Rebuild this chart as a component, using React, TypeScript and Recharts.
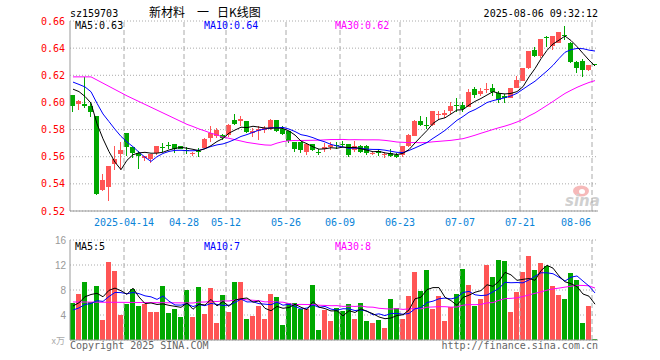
import React from 'react';
import { ComposedChart, Bar, Line, XAxis, YAxis, CartesianGrid, ReferenceLine } from 'recharts';

const dates = ["03-31","04-01","04-02","04-03","04-07","04-08","04-09","04-10","04-11","04-14","04-15","04-16","04-17","04-18","04-21","04-22","04-23","04-24","04-25","04-28","04-29","04-30","05-06","05-07","05-08","05-09","05-12","05-13","05-14","05-15","05-16","05-19","05-20","05-21","05-22","05-23","05-26","05-27","05-28","05-29","05-30","06-03","06-04","06-05","06-06","06-09","06-10","06-11","06-12","06-13","06-16","06-17","06-18","06-19","06-20","06-23","06-24","06-25","06-26","06-27","06-30","07-01","07-02","07-03","07-04","07-07","07-08","07-09","07-10","07-11","07-14","07-15","07-16","07-17","07-18","07-21","07-22","07-23","07-24","07-25","07-28","07-29","07-30","07-31","08-01","08-04","08-05","08-06"];

const openP = [0.6056,0.5990,0.5985,0.5977,0.5901,0.5352,0.5380,0.5546,0.5622,0.5774,0.5670,0.5627,0.5590,0.5583,0.5625,0.5670,0.5690,0.5693,0.5680,0.5648,0.5620,0.5642,0.5665,0.5735,0.5755,0.5760,0.5758,0.5867,0.5860,0.5860,0.5774,0.5793,0.5795,0.5805,0.5872,0.5805,0.5786,0.5712,0.5705,0.5635,0.5695,0.5632,0.5660,0.5672,0.5683,0.5695,0.5695,0.5646,0.5680,0.5678,0.5621,0.5645,0.5615,0.5625,0.5615,0.5610,0.5680,0.5756,0.5864,0.5832,0.5834,0.5905,0.5910,0.5940,0.5978,0.5980,0.5970,0.6100,0.6060,0.6093,0.6110,0.6069,0.6050,0.6036,0.6110,0.6161,0.6253,0.6387,0.6343,0.6482,0.6417,0.6437,0.6497,0.6441,0.6300,0.6308,0.6240,0.6280];
const highP = [0.6056,0.6019,0.6186,0.5999,0.5901,0.5475,0.5535,0.5676,0.5705,0.5774,0.5670,0.5640,0.5605,0.5618,0.5676,0.5700,0.5705,0.5693,0.5680,0.5668,0.5635,0.5665,0.5735,0.5828,0.5813,0.5765,0.5840,0.5916,0.5901,0.5860,0.5810,0.5828,0.5828,0.5875,0.5872,0.5830,0.5790,0.5712,0.5705,0.5695,0.5695,0.5656,0.5700,0.5705,0.5705,0.5715,0.5695,0.5716,0.5688,0.5690,0.5636,0.5660,0.5635,0.5655,0.5625,0.5676,0.5767,0.5870,0.5901,0.5890,0.5940,0.5938,0.5945,0.6005,0.6036,0.6002,0.6098,0.6117,0.6105,0.6143,0.6134,0.6085,0.6060,0.6105,0.6198,0.6257,0.6380,0.6411,0.6468,0.6487,0.6492,0.6522,0.6564,0.6445,0.6305,0.6319,0.6274,0.6280];
const lowP = [0.5933,0.5945,0.5958,0.5896,0.5320,0.5344,0.5271,0.5504,0.5504,0.5605,0.5590,0.5511,0.5570,0.5555,0.5615,0.5634,0.5659,0.5625,0.5655,0.5618,0.5605,0.5597,0.5662,0.5710,0.5735,0.5725,0.5745,0.5836,0.5830,0.5775,0.5745,0.5725,0.5774,0.5800,0.5785,0.5760,0.5700,0.5635,0.5631,0.5615,0.5640,0.5614,0.5637,0.5650,0.5655,0.5668,0.5597,0.5637,0.5625,0.5615,0.5614,0.5605,0.5590,0.5595,0.5590,0.5595,0.5675,0.5750,0.5823,0.5806,0.5830,0.5870,0.5885,0.5914,0.5933,0.5929,0.5965,0.6032,0.6045,0.6066,0.6044,0.5998,0.5998,0.6030,0.6105,0.6155,0.6250,0.6335,0.6330,0.6410,0.6388,0.6435,0.6461,0.6290,0.6216,0.6186,0.6231,0.6275];
const closeP = [0.5977,0.6007,0.5975,0.5926,0.5327,0.5425,0.5535,0.5585,0.5651,0.5674,0.5630,0.5602,0.5605,0.5618,0.5676,0.5665,0.5685,0.5660,0.5660,0.5642,0.5625,0.5638,0.5730,0.5772,0.5795,0.5737,0.5835,0.5843,0.5877,0.5780,0.5787,0.5803,0.5810,0.5870,0.5790,0.5765,0.5713,0.5660,0.5646,0.5695,0.5650,0.5627,0.5673,0.5686,0.5678,0.5690,0.5610,0.5678,0.5635,0.5630,0.5630,0.5625,0.5620,0.5605,0.5600,0.5676,0.5762,0.5864,0.5836,0.5827,0.5938,0.5912,0.5920,0.5977,0.5973,0.5952,0.6080,0.6056,0.6085,0.6100,0.6076,0.6020,0.6032,0.6105,0.6166,0.6257,0.6380,0.6340,0.6465,0.6478,0.6490,0.6522,0.6490,0.6301,0.6253,0.6240,0.6274,0.6275];
const volume = [5.97,7.36,9.28,6.1,8.64,3.2,12.53,11.04,4.0,5.76,8.16,5.44,5.76,4.53,4.53,8.64,4.27,4.96,3.73,8.0,3.63,8.43,4.16,8.27,2.77,7.2,4.48,9.28,9.28,3.36,3.89,5.44,3.36,7.36,6.83,2.4,6.0,6.0,4.96,4.96,8.8,1.6,4.8,3.09,5.12,4.69,5.76,3.36,6.0,3.09,2.77,3.2,1.97,6.56,5.12,3.36,7.04,10.88,7.84,11.2,4.96,7.04,3.09,5.23,7.36,11.36,8.8,5.44,6.56,12.05,10.08,12.8,12.64,4.53,7.68,10.88,13.44,11.2,12.32,11.9,8.64,7.2,6.56,10.72,9.6,2.72,5.44,0.16];

// sessions before the first visible day (estimated from where the MA lines start)
const priorClose = [0.6007,0.5975,0.5926,0.6027,0.6125,0.6235,0.6285,0.6351,0.6374,0.6260,0.6232,0.6235,0.6248,0.6306,0.6295,0.6315,0.6290,0.6290,0.6272,0.6105,0.6180,0.6160,0.6280,0.6180,0.6210,0.6097,0.6155,0.6170,0.6090];
const priorVolume = [7.5,9.5,6.4,8.9,3.5,12.6,11.2,4.3,6.0,8.4,5.7,6.0,4.8,4.8,8.9,4.5,5.2,4.0,8.3,4.0,4.0,3.8,4.5,4.2,4.3,4.7,4.5,4.3,7.7];

const tickDates = ["04-14","04-28","05-12","05-26","06-09","06-23","07-07","07-21","08-06"];
const tickLabels = ["2025-04-14","04-28","05-12","05-26","06-09","06-23","07-07","07-21","08-06"];
const priceTicks = [0.52,0.54,0.56,0.58,0.60,0.62,0.64,0.66];
const volTicks = [0,4,8,12,16];
const priceLegend = ["MA5:0.63","MA10:0.64","MA30:0.62"];
const volLegend = ["MA5:5","MA10:7","MA30:8"];

const RED = '#ff5555';
const GREEN = '#00a800';
const MONO = '"DejaVu Sans Mono", monospace';
const GRID = '#aaaaaa';
const BORDER = '#999999';

function movingAvg(prior: number[], values: number[], n: number) {
  const all = [...prior, ...values];
  const off = prior.length;
  return values.map((_, i) => {
    let s = 0;
    for (let k = 0; k < n; k++) s += all[off + i - k];
    return s / n;
  });
}

const ma5 = movingAvg(priorClose, closeP, 5);
const ma10 = movingAvg(priorClose, closeP, 10);
const ma30 = movingAvg(priorClose, closeP, 30);
const vma5 = movingAvg(priorVolume, volume, 5);
const vma10 = movingAvg(priorVolume, volume, 10);
const vma30 = movingAvg(priorVolume, volume, 30);

const rows = dates.map((d, i) => ({
  d,
  open: openP[i],
  high: highP[i],
  low: lowP[i],
  close: closeP[i],
  vol: volume[i],
  ma5: ma5[i],
  ma10: ma10[i],
  ma30: ma30[i],
  vma5: vma5[i],
  vma10: vma10[i],
  vma30: vma30[i],
}));

const Candle = (props: any) => {
  const { x, y, height, payload } = props;
  if (x == null || y == null || !payload) return null;
  const top = Math.min(y, y + height);
  const bot = Math.max(y, y + height);
  const { open, close, high, low } = payload;
  const span = high - low;
  const py = (v: number) => (span > 0 ? top + ((high - v) / span) * (bot - top) : top);
  const color = close >= open ? RED : GREEN;
  const sx = Math.round(x);
  const yo = py(open);
  const yc = py(close);
  const bt = Math.round(Math.min(yo, yc));
  let bh = Math.round(Math.max(yo, yc)) - bt;
  if (bh < 1) bh = 1;
  const wt = Math.round(top);
  const wh = Math.max(1, Math.round(bot) - wt);
  return (
    <g>
      <rect x={sx + 2} y={wt} width={1} height={wh} fill={color} />
      <rect x={sx} y={bt} width={5} height={bh} fill={color} />
    </g>
  );
};

const VolBar = (props: any) => {
  const { x, y, height, payload } = props;
  if (x == null || y == null || !payload) return null;
  const color = payload.close >= payload.open ? RED : GREEN;
  const t = Math.round(Math.min(y, y + height));
  const b = Math.round(Math.max(y, y + height));
  return <rect x={Math.round(x)} y={t} width={5} height={Math.max(1, b - t)} fill={color} />;
};

const XTick = (props: any) => {
  const { x, y, payload } = props;
  const i = tickDates.indexOf(payload.value);
  if (i < 0) return null;
  const last = i === tickDates.length - 1;
  const lx = x - 3;
  return (
    <text x={last ? lx - 1 : lx} y={y + 14.5} textAnchor={last ? 'end' : 'middle'} fill="#0b84d8" fontSize={10} fontFamily={MONO}>
      {tickLabels[i]}
    </text>
  );
};

const PriceTick = (props: any) => {
  const { x, y, payload } = props;
  return (
    <text x={x - 5} y={y + 3.5} textAnchor="end" fill="#ff0000" fontSize={10} fontFamily={MONO}>
      {Number(payload.value).toFixed(2)}
    </text>
  );
};

const VolTick = (props: any) => {
  const { x, y, payload } = props;
  if (payload.value === 0) return null;
  return (
    <text x={x - 4} y={y + 3.5} textAnchor="end" fill="#999" fontSize={10} fontFamily='"Liberation Sans", sans-serif'>
      {payload.value}
    </text>
  );
};

export default function App() {
  return (
    <div style={{ position: 'absolute', left: 0, top: 0, width: 660, height: 360, background: '#fff', overflow: 'hidden' }}>
      <div style={{ position: 'absolute', left: 0, top: 0 }}>
        <ComposedChart width={660} height={230} data={rows} margin={{ top: 21, right: 62, bottom: 0, left: 0 }}>
          <CartesianGrid vertical={false} stroke={GRID} strokeDasharray="1 2" />
          <XAxis dataKey="d" ticks={tickDates} interval={0} tick={<XTick />} tickLine={false} tickSize={0} tickMargin={0} height={19} axisLine={{ stroke: BORDER }} />
          <XAxis xAxisId="top" dataKey="d" orientation="top" height={0} tick={false} tickLine={false} axisLine={{ stroke: BORDER }} />
          <YAxis domain={[0.52, 0.66]} ticks={priceTicks} tick={<PriceTick />} width={70} tickLine={false} tickSize={0} tickMargin={0} axisLine={{ stroke: BORDER }} allowDataOverflow />
          <YAxis yAxisId="right" orientation="right" width={0} domain={[0.52, 0.66]} tick={false} tickLine={false} axisLine={{ stroke: BORDER }} />
          {tickDates.map((d) => (
            <ReferenceLine key={d} x={d} position="start" stroke={GRID} strokeDasharray="5 3" />
          ))}
          <Bar dataKey={(r: any) => [r.low, r.high]} shape={<Candle />} barSize={6} isAnimationActive={false} />
          <Line dataKey="ma30" stroke="#ff00ff" strokeWidth={1} dot={false} isAnimationActive={false} />
          <Line dataKey="ma10" stroke="#0000ff" strokeWidth={1} dot={false} isAnimationActive={false} />
          <Line dataKey="ma5" stroke="#000000" strokeWidth={1} dot={false} isAnimationActive={false} />
        </ComposedChart>
      </div>
      <div style={{ position: 'absolute', left: 0, top: 230 }}>
        <ComposedChart width={660} height={130} data={rows} margin={{ top: 10, right: 62, bottom: 0, left: 0 }}>
          <CartesianGrid vertical={false} stroke={GRID} strokeDasharray="1 2" />
          <XAxis dataKey="d" ticks={tickDates} interval={0} tick={false} tickLine={false} tickSize={0} height={20} axisLine={{ stroke: BORDER }} />
          <XAxis xAxisId="top" dataKey="d" orientation="top" height={0} tick={false} tickLine={false} axisLine={{ stroke: BORDER }} />
          <YAxis domain={[0, 16]} ticks={volTicks} tick={<VolTick />} width={70} tickLine={false} tickSize={0} tickMargin={0} axisLine={{ stroke: BORDER }} allowDataOverflow />
          <YAxis yAxisId="right" orientation="right" width={0} domain={[0, 16]} tick={false} tickLine={false} axisLine={{ stroke: BORDER }} />
          {tickDates.map((d) => (
            <ReferenceLine key={d} x={d} position="start" stroke={GRID} strokeDasharray="5 3" />
          ))}
          <Bar dataKey="vol" shape={<VolBar />} barSize={6} isAnimationActive={false} />
          <Line dataKey="vma30" stroke="#ff00ff" strokeWidth={1} dot={false} isAnimationActive={false} />
          <Line dataKey="vma10" stroke="#0000ff" strokeWidth={1} dot={false} isAnimationActive={false} />
          <Line dataKey="vma5" stroke="#000000" strokeWidth={1} dot={false} isAnimationActive={false} />
        </ComposedChart>
      </div>
      <svg width={660} height={360} style={{ position: 'absolute', left: 0, top: 0, pointerEvents: 'none' }}>
        <text x={70} y={17} fontSize={10} fontFamily={MONO} fill="#000">sz159703</text>
        <text x={149} y={17} fontSize={12} fontFamily='"Noto Sans CJK SC", sans-serif' fill="#000">新材料</text>
        <text x={197} y={17} fontSize={12} fontFamily='"Noto Sans CJK SC", sans-serif' fill="#000">一</text>
        <text x={217} y={17} fontSize={12} fontFamily='"Noto Sans CJK SC", sans-serif' fill="#000">日K线图</text>
        <text x={598} y={17} textAnchor="end" fontSize={10} fontFamily={MONO} fill="#000">2025-08-06 09:32:12</text>
        <text x={75} y={29} fontSize={10} fontFamily={MONO} fill="#000">{priceLegend[0]}</text>
        <text x={204} y={29} fontSize={10} fontFamily={MONO} fill="#0000ff">{priceLegend[1]}</text>
        <text x={335} y={29} fontSize={10} fontFamily={MONO} fill="#ff00ff">{priceLegend[2]}</text>
        <text x={75} y={250} fontSize={10} fontFamily={MONO} fill="#000">{volLegend[0]}</text>
        <text x={204} y={250} fontSize={10} fontFamily={MONO} fill="#0000ff">{volLegend[1]}</text>
        <text x={335} y={250} fontSize={10} fontFamily={MONO} fill="#ff00ff">{volLegend[2]}</text>
        <text x={65} y={344} textAnchor="end" fontSize={9} fontFamily='"Noto Sans CJK SC", sans-serif' fill="#aaa">x万</text>
        <text x={70} y={349} fontSize={10} fontFamily={MONO} fill="#666">Copyright 2025 SINA.COM</text>
        <text x={598} y={349} textAnchor="end" fontSize={10} fontFamily={MONO} fill="#666">http://finance.sina.com.cn</text>
        <g opacity={0.55}>
          <ellipse cx={581} cy={191} rx={8} ry={5.5} fill="#f08080" />
          <ellipse cx={582} cy={191.5} rx={3} ry={2.5} fill="#fff" />
          <text x={565} y={206} fontSize={15} fontStyle="italic" fontWeight="bold" fontFamily='"DejaVu Sans", sans-serif' fill="#aaa">sina</text>
        </g>
      </svg>
    </div>
  );
}
